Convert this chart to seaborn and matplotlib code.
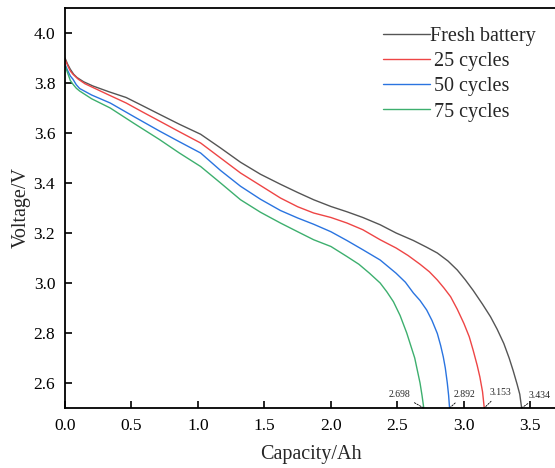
import pandas as pd
import numpy as np
from matplotlib import pyplot as plt
import seaborn as sns

sns.set_style('ticks')
plt.rcParams['font.family'] = ['Liberation Serif', 'DejaVu Serif']
plt.rcParams['xtick.direction'] = 'in'
plt.rcParams['ytick.direction'] = 'in'

# discharge curves (capacity in Ah, voltage in V)
cap_fresh = [0.0, 0.02, 0.04, 0.065, 0.09, 0.14, 0.21, 0.33, 0.46, 0.58, 0.71, 0.86, 1.02, 1.17,
             1.32, 1.47, 1.62, 1.75, 1.87, 2.0, 2.12, 2.24, 2.37, 2.49, 2.62, 2.72, 2.8, 2.88,
             2.95, 3.01, 3.07, 3.14, 3.2, 3.25, 3.3, 3.34, 3.37, 3.4, 3.42, 3.434]
v_fresh = [3.90, 3.875, 3.855, 3.835, 3.822, 3.805, 3.788, 3.765, 3.742, 3.71, 3.675, 3.635, 3.595,
           3.54, 3.483, 3.435, 3.395, 3.362, 3.333, 3.306, 3.285, 3.262, 3.233, 3.20, 3.17, 3.143,
           3.12, 3.088, 3.052, 3.013, 2.97, 2.915, 2.865, 2.815, 2.758, 2.70, 2.65, 2.595, 2.555, 2.50]

cap_25 = [0.0, 0.02, 0.04, 0.06, 0.1, 0.15, 0.21, 0.33, 0.46, 0.58, 0.71, 0.86, 1.02, 1.17,
          1.32, 1.47, 1.62, 1.75, 1.87, 2.0, 2.12, 2.24, 2.37, 2.49, 2.58, 2.67, 2.74, 2.8,
          2.85, 2.9, 2.95, 3.0, 3.04, 3.07, 3.1, 3.12, 3.14, 3.153]
v_25 = [3.895, 3.87, 3.848, 3.835, 3.815, 3.797, 3.782, 3.752, 3.72, 3.685, 3.648, 3.605, 3.56, 3.50,
        3.44, 3.39, 3.34, 3.305, 3.28, 3.262, 3.24, 3.213, 3.173, 3.14, 3.11, 3.075, 3.045, 3.012,
        2.98, 2.945, 2.895, 2.838, 2.785, 2.73, 2.67, 2.624, 2.565, 2.50]

cap_50 = [0.0, 0.02, 0.04, 0.06, 0.085, 0.11, 0.2, 0.34, 0.52, 0.71, 0.86, 1.02, 1.17, 1.32,
          1.47, 1.62, 1.75, 1.87, 2.0, 2.12, 2.24, 2.37, 2.49, 2.56, 2.62, 2.67, 2.72, 2.76,
          2.8, 2.825, 2.845, 2.86, 2.875, 2.885, 2.892]
v_50 = [3.875, 3.85, 3.828, 3.815, 3.793, 3.778, 3.752, 3.72, 3.665, 3.608, 3.565, 3.52, 3.45, 3.387,
        3.335, 3.29, 3.26, 3.235, 3.205, 3.17, 3.133, 3.092, 3.039, 3.003, 2.96, 2.93, 2.892, 2.85,
        2.798, 2.75, 2.704, 2.66, 2.60, 2.55, 2.50]

cap_75 = [0.0, 0.02, 0.04, 0.06, 0.085, 0.11, 0.2, 0.34, 0.52, 0.71, 0.86, 1.02, 1.17, 1.32,
          1.47, 1.62, 1.75, 1.87, 2.0, 2.12, 2.21, 2.29, 2.37, 2.42, 2.47, 2.52, 2.57, 2.6,
          2.63, 2.65, 2.67, 2.685, 2.698]
v_75 = [3.87, 3.84, 3.81, 3.795, 3.779, 3.768, 3.737, 3.70, 3.638, 3.574, 3.52, 3.466, 3.40, 3.333,
        3.283, 3.24, 3.205, 3.173, 3.146, 3.106, 3.075, 3.039, 3.0, 2.965, 2.925, 2.87, 2.80, 2.75,
        2.70, 2.65, 2.60, 2.55, 2.50]

labels = ['Fresh battery', '\u200925 cycles', '\u200950 cycles', '\u200975 cycles']
colors = ['#555555', '#ee4545', '#2a74e0', '#3daf6e']
end_caps = ['3.434', '3.153', '2.892', '2.698']
end_text_x = [3.571, 3.271, 3.008, 2.515]
end_text_y = [2.552, 2.562, 2.555, 2.555]

df = pd.concat([
    pd.DataFrame({'cap': c, 'v': v, 'series': lab})
    for c, v, lab in zip([cap_fresh, cap_25, cap_50, cap_75],
                         [v_fresh, v_25, v_50, v_75], labels)
], ignore_index=True)

fig = plt.figure(figsize=(5.55, 4.68), dpi=100)
ax = fig.add_axes([65 / 555, 60 / 468, 492 / 555, 400 / 468])

sns.lineplot(data=df, x='cap', y='v', hue='series', palette=colors, sort=False,
             estimator=None, lw=1.0, ax=ax)

for lab, tx, ty in zip(end_caps, end_text_x, end_text_y):
    ax.annotate(lab, xy=(float(lab), 2.5), xytext=(tx, ty), fontsize=7, ha='center', va='center',
                arrowprops=dict(arrowstyle='-', ls=(0, (2, 1.5)), lw=0.6, color='k',
                                shrinkA=1, shrinkB=0),
                annotation_clip=False)

ax.set_xlim(0, 3.7)
ax.set_ylim(2.5, 4.1)
ax.set_xticks(np.arange(0, 3.51, 0.5))
ax.set_yticks(np.arange(2.6, 4.01, 0.2))
ax.xaxis.set_major_formatter(plt.FormatStrFormatter('%.1f'))
ax.yaxis.set_major_formatter(plt.FormatStrFormatter('%.1f'))
ax.tick_params(labelsize=12.5, length=5, width=1.2, colors='k', pad=7)
for s in ax.spines.values():
    s.set_linewidth(1.3)
    s.set_color('k')
ax.set_xlabel('Capacity/Ah', fontsize=14.5, labelpad=8)
ax.set_ylabel('Voltage/V', fontsize=14.5, labelpad=2)

ax.legend(frameon=False, loc='upper left', bbox_to_anchor=(0.646, 0.9525), fontsize=14.5,
          handlelength=2.35, handletextpad=0.0, labelspacing=0.3, borderaxespad=0.0,
          borderpad=0.0)

plt.savefig('out.png', dpi=100)
